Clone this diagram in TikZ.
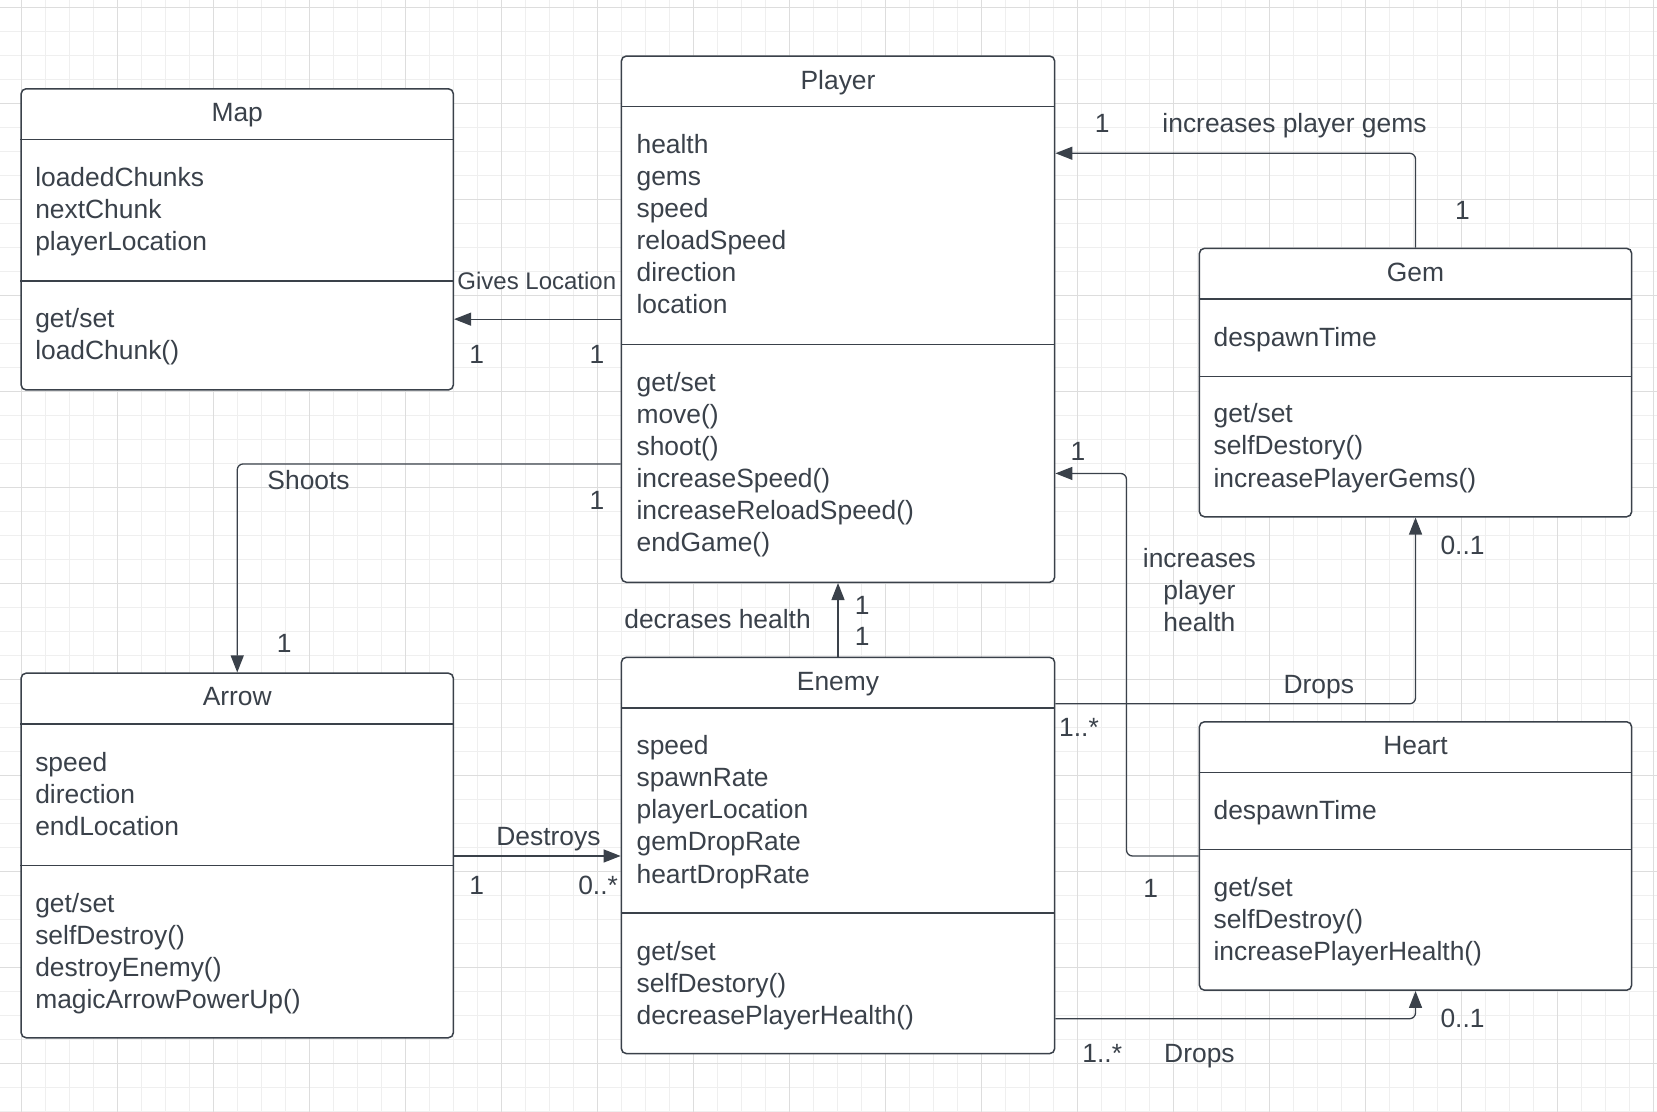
\documentclass[tikz,border=0pt]{standalone}
\usepackage{fontspec}
\setmainfont{Liberation Sans}
\usetikzlibrary{arrows.meta,fit}
\definecolor{lc}{HTML}{3A414A}
\definecolor{gminor}{HTML}{EFEFEF}
\definecolor{gmajor}{HTML}{DDDDDD}
\newcommand\fs{\fontsize{13.2}{16}\selectfont}
\newcommand\fss{\fontsize{12}{14}\selectfont}
\tikzset{
  cls/.style={draw=lc, line width=0.75pt, rounded corners=2.5pt, fill=white, inner sep=0pt},
  sepline/.style={draw=lc, line width=0.7pt},
  txt/.style={anchor=west, inner sep=0pt, text height=10.6pt, text depth=0pt, font=\fs, text=lc},
  ttl/.style={anchor=center, inner sep=0pt, text height=10.6pt, text depth=0pt, font=\fs, text=lc},
  lbl/.style={anchor=center, inner sep=0pt, text height=10.6pt, text depth=0pt, font=\fs, text=lc},
  arr/.style={draw=lc, line width=0.65pt, -{Triangle[length=8.5pt,width=6.5pt]}, rounded corners=3pt},
}
\begin{document}
\begin{tikzpicture}[x=0.5284pt, y=-0.5284pt]
\useasboundingbox (0,0) rectangle (1568,1052);
\fill[white] (0,0) rectangle (1568,1052);
% grid
\foreach \i in {0,...,70} {
  \draw[gminor, line width=0.5pt] ({-2.51+22.71*\i},0) -- ({-2.51+22.71*\i},1052);
}
\foreach \j in {0,...,46} {
  \draw[gminor, line width=0.5pt] (0,{6.9+22.71*\j}) -- (1568,{6.9+22.71*\j});
}
\foreach \i in {0,...,17} {
  \draw[gmajor, line width=0.6pt] ({20.2+90.84*\i},0) -- ({20.2+90.84*\i},1052);
}
\foreach \j in {0,...,11} {
  \draw[gmajor, line width=0.6pt] (0,{6.9+90.84*\j}) -- (1568,{6.9+90.84*\j});
}

% ---------- Map ----------
\node[cls, fit={(20,84) (429,369)}] (map) {};
\draw[sepline] (map.west |- 0,132) -- (map.east |- 0,132);
\draw[sepline] (map.west |- 0,266) -- (map.east |- 0,266);
\node[ttl] (map-t) at (map.north |- 0,105) {Map};
\foreach \t [count=\i] in {loadedChunks,nextChunk,playerLocation}
  \node[txt] (map-a\i) at (33,{166+30.4*(\i-1)}) {\t};
\foreach \t [count=\i] in {get/set,loadChunk()}
  \node[txt] (map-m\i) at (33,{300+30.4*(\i-1)}) {\t};

% ---------- Player ----------
\node[cls, fit={(588,53) (998,551)}] (player) {};
\draw[sepline] (player.west |- 0,101) -- (player.east |- 0,101);
\draw[sepline] (player.west |- 0,326) -- (player.east |- 0,326);
\node[ttl] (player-t) at (player.north |- 0,75) {Player};
\foreach \t [count=\i] in {health,gems,speed,reloadSpeed,direction,location}
  \node[txt] (player-a\i) at (602,{135+30.4*(\i-1)}) {\t};
\foreach \t [count=\i] in {get/set,move(),shoot(),increaseSpeed(),increaseReloadSpeed(),endGame()}
  \node[txt] (player-m\i) at (602,{360+30.4*(\i-1)}) {\t};

% ---------- Gem ----------
\node[cls, fit={(1135,235) (1544,489)}] (gem) {};
\draw[sepline] (gem.west |- 0,283) -- (gem.east |- 0,283);
\draw[sepline] (gem.west |- 0,356) -- (gem.east |- 0,356);
\node[ttl] (gem-t) at (gem.north |- 0,256) {Gem};
\node[txt] (gem-a1) at (1148,318) {despawnTime};
\foreach \t [count=\i] in {get/set,selfDestory(),increasePlayerGems()}
  \node[txt] (gem-m\i) at (1148,{390+30.4*(\i-1)}) {\t};

% ---------- Arrow ----------
\node[cls, fit={(20,637) (429,982)}] (arrow) {};
\draw[sepline] (arrow.west |- 0,685) -- (arrow.east |- 0,685);
\draw[sepline] (arrow.west |- 0,819) -- (arrow.east |- 0,819);
\node[ttl] (arrow-t) at (arrow.north |- 0,658) {Arrow};
\foreach \t [count=\i] in {speed,direction,endLocation}
  \node[txt] (arrow-a\i) at (33,{720+30.4*(\i-1)}) {\t};
\foreach \t [count=\i] in {get/set,selfDestroy(),destroyEnemy(),magicArrowPowerUp()}
  \node[txt] (arrow-m\i) at (33,{853+30.4*(\i-1)}) {\t};

% ---------- Enemy ----------
\node[cls, fit={(588,622) (998,997)}] (enemy) {};
\draw[sepline] (enemy.west |- 0,670) -- (enemy.east |- 0,670);
\draw[sepline] (enemy.west |- 0,864) -- (enemy.east |- 0,864);
\node[ttl] (enemy-t) at (enemy.north |- 0,643) {Enemy};
\foreach \t [count=\i] in {speed,spawnRate,playerLocation,gemDropRate,heartDropRate}
  \node[txt] (enemy-a\i) at (602,{704+30.4*(\i-1)}) {\t};
\foreach \t [count=\i] in {get/set,selfDestory(),decreasePlayerHealth()}
  \node[txt] (enemy-m\i) at (602,{899+30.4*(\i-1)}) {\t};

% ---------- Heart ----------
\node[cls, fit={(1135,683) (1544,937)}] (heart) {};
\draw[sepline] (heart.west |- 0,731) -- (heart.east |- 0,731);
\draw[sepline] (heart.west |- 0,804) -- (heart.east |- 0,804);
\node[ttl] (heart-t) at (heart.north |- 0,704) {Heart};
\node[txt] (heart-a1) at (1148,765) {despawnTime};
\foreach \t [count=\i] in {get/set,selfDestroy(),increasePlayerHealth()}
  \node[txt] (heart-m\i) at (1148,{838+30.4*(\i-1)}) {\t};

% ---------- Connectors ----------
% Player -> Map
\draw[arr] (player.west |- 0,302) -- (map.east |- 0,302);
\node[lbl, font=\fss, text height=9.7pt] (l-gives) at (508,265) {Gives Location};
\node[lbl] (l-gm1) at (451,334) {1};
\node[lbl] (l-gm2) at (565,334) {1};

% Player -> Arrow (Shoots)
\draw[arr] (player.west |- 0,439) -| (arrow.north);
\node[lbl] (l-shoots) at (292,453) {Shoots};
\node[lbl] (l-sh1) at (565,472) {1};
\node[lbl] (l-sh2) at (269,607) {1};

% Gem -> Player
\draw[arr] (gem.north) |- (player.east |- 0,145);
\node[lbl] (l-gp1) at (1043,115) {1};
\node[lbl] (l-gp) at (1225,115) {increases player gems};
\node[lbl] (l-gp2) at (1384,198) {1};

% Heart -> Player
\coordinate (hbend) at (1066,448);
\draw[arr] (heart.west |- 0,810) -| (hbend) -- (player.east |- hbend);
\node[lbl] (l-hp1) at (1020,426) {1};
\node[lbl, align=center, text height=, text depth=] (l-hp) at (1135,558) {increases\\player\\health};
\node[lbl] (l-hp2) at (1089,839) {1};

% Enemy -> Gem
\draw[arr] (enemy.east |- 0,666) -| (gem.south);
\node[lbl] (l-eg) at (1248,646) {Drops};
\node[lbl] (l-eg1) at (1021,687) {1..*};
\node[lbl] (l-eg2) at (1384,515) {0..1};

% Enemy -> Heart
\draw[arr] (enemy.east |- 0,964) -| (heart.south);
\node[lbl] (l-eh2) at (1384,962) {0..1};
\node[lbl] (l-eh1) at (1043,995) {1..*};
\node[lbl] (l-eh) at (1135,995) {Drops};

% Enemy -> Player
\draw[arr] (enemy.north) -- (player.south);
\node[lbl] (l-ep) at (679,585) {decrases health};
\node[lbl] (l-ep1) at (816,571) {1};
\node[lbl] (l-ep2) at (816,601) {1};

% Arrow -> Enemy
\draw[arr] (arrow.east |- 0,810) -- (enemy.west |- 0,810);
\node[lbl] (l-ae) at (519,790) {Destroys};
\node[lbl] (l-ae1) at (451,836) {1};
\node[lbl] (l-ae2) at (566,836) {0..*};
\end{tikzpicture}
\end{document}
